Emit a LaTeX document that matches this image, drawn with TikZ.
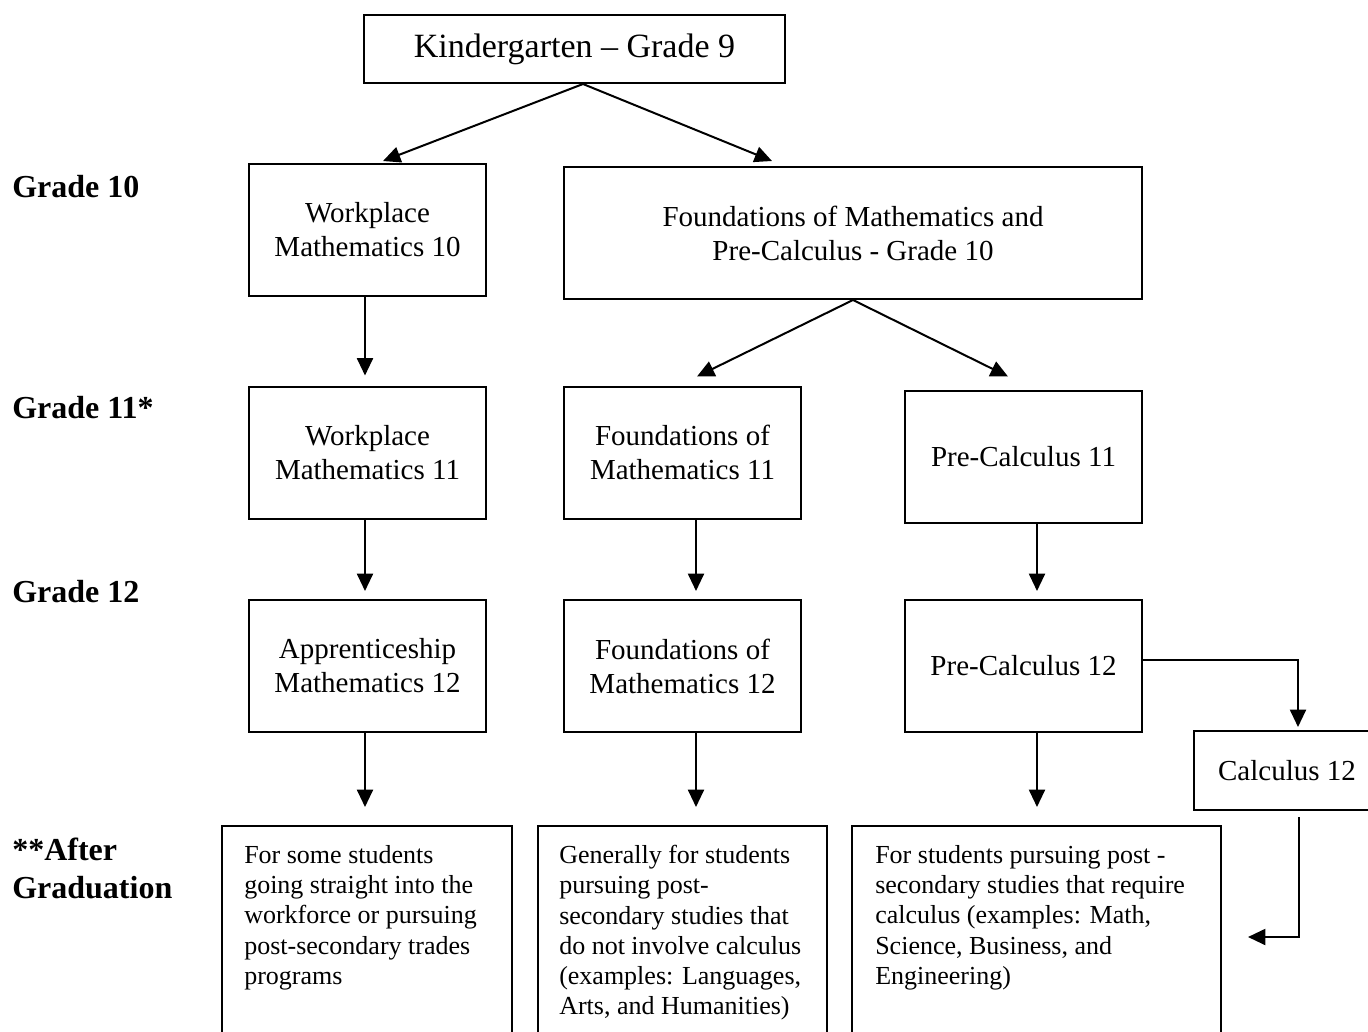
\documentclass[tikz,border=0pt]{standalone}
\usepackage{fontspec}
\setmainfont{Liberation Serif}
\usetikzlibrary{arrows.meta}
\begin{document}
\begin{tikzpicture}[x=0.75pt,y=-0.75pt,
  box/.style={draw, line width=1.5pt, align=center, inner sep=0pt, font=\fontsize{21.75}{25.5}\selectfont},
  midbox/.style={box, minimum width=177.75pt, minimum height=99pt},
  outbox/.style={draw, line width=1.5pt, inner sep=0pt, minimum height=164.25pt},
  outtext/.style={anchor=north west, align=left, inner sep=0pt, font=\fontsize{19.5}{22.7}\selectfont},
  grade/.style={anchor=base west, align=left, inner sep=0pt, font=\fontsize{24}{28}\selectfont\bfseries},
  arr/.style={line width=1.5pt, -{Triangle[length=13pt,width=12pt]}}
]
\useasboundingbox (0,0) rectangle (1368,1032);
\clip (0,0) rectangle (1368,1032);

% grade labels
\node[grade] (g10) at (12,197) {Grade 10};
\node[grade] (g11) at (12,418) {Grade 11*};
\node[grade] (g12) at (12,602) {Grade 12};
\node[grade] (gag) at (12,898) {**After\\Graduation};

% boxes
\node[box, minimum width=315.75pt, minimum height=51pt, font=\fontsize{25.5}{30}\selectfont] (k9) at (574.5,49) {Kindergarten -- Grade 9};
\node[midbox] (w10) at (367.5,230) {Workplace\\Mathematics 10};
\node[box, minimum width=433.5pt, minimum height=99pt] (fp10) at (853,233) {Foundations of Mathematics and\\Pre-Calculus - Grade 10};
\node[midbox] (w11) at (367.5,452.5) {Workplace\\Mathematics 11};
\node[midbox] (f11) at (682.5,452.5) {Foundations of\\Mathematics 11};
\node[midbox] (pc11) at (1023.5,456.5) {Pre-Calculus 11};
\node[midbox] (a12) at (367.5,666) {Apprenticeship\\Mathematics 12};
\node[midbox] (f12) at (682.5,666) {Foundations of\\Mathematics 12};
\node[midbox] (pc12) at (1023.5,666) {Pre-Calculus 12};
\node[box, minimum width=139.5pt, minimum height=59.25pt] (calc) at (1287,770.5) {Calculus 12};

% outcome boxes
\node[outbox, minimum width=217.5pt] (b1) at (367,935.5) {};
\node[outbox, minimum width=216.75pt] (b2) at (682.5,935.5) {};
\node[outbox, minimum width=276.75pt] (b3) at (1036.5,935.5) {};
\node[outtext] (t1) at ([shift={(23,20)}]b1.north west) {For some students\\going straight into the\\workforce or pursuing\\post-secondary trades\\programs};
\node[outtext] (t2) at ([shift={(22,20)}]b2.north west) {Generally for students\\pursuing post-\\secondary studies that\\do not involve calculus\\(examples: Languages,\\Arts, and Humanities)};
\node[outtext] (t3) at ([shift={(24,20)}]b3.north west) {For students pursuing post -\\secondary studies that require\\calculus (examples: Math,\\Science, Business, and\\Engineering)};

% connectors
\draw[arr] ([shift={(8.5,0)}]k9.south) -- ([shift={(15.5,-2)}]w10.north);
\draw[arr] ([shift={(8.5,0)}]k9.south) -- ([shift={(-81,-5)}]fp10.north);
\draw[arr] ([shift={(-2.5,0)}]w10.south) -- ([shift={(-2.5,-10)}]w11.north);
\draw[arr] (fp10.south) -- ([shift={(14.5,-9)}]f11.north);
\draw[arr] (fp10.south) -- ([shift={(-15.5,-13)}]pc11.north);
\draw[arr] ([shift={(-2.5,0)}]w11.south) -- ([shift={(-2.5,-8)}]a12.north);
\draw[arr] ([shift={(13.5,0)}]f11.south) -- ([shift={(13.5,-8)}]f12.north);
\draw[arr] ([shift={(13.5,0)}]pc11.south) -- ([shift={(13.5,-8)}]pc12.north);
\draw[arr] ([shift={(-2.5,0)}]a12.south) -- ([shift={(-2,-18)}]b1.north);
\draw[arr] ([shift={(13.5,0)}]f12.south) -- ([shift={(13.5,-18)}]b2.north);
\draw[arr] ([shift={(13.5,0)}]pc12.south) -- ([shift={(0.5,-18)}]b3.north);
\draw[arr] ([shift={(0,-6)}]pc12.east) -| ([shift={(11,-3)}]calc.north);
\coordinate (calcend) at (1248,937);
\draw[arr] ([shift={(12,6)}]calc.south) |- (calcend);
\end{tikzpicture}
\end{document}
